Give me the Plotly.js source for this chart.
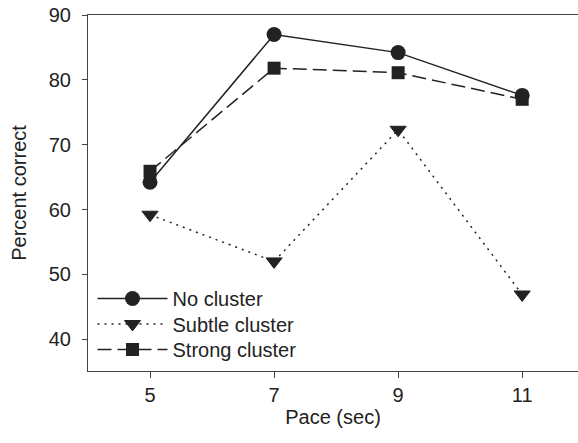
<!DOCTYPE html>
<html>
<head>
<meta charset="utf-8">
<script src="https://cdn.plot.ly/plotly-3.0.1.min.js"></script>
<style>
html,body{margin:0;padding:0;background:#fff;}
#chart{width:578px;height:443px;}
</style>
</head>
<body>
<div id="chart"></div>
<script>
var pace = [5, 7, 9, 11];
var noCluster = [64.2, 87.0, 84.2, 77.6];
var subtleCluster = [59.2, 52.0, 72.3, 46.9];
var strongCluster = [65.9, 81.8, 81.1, 77.0];
var seriesNames = ["No cluster", "Subtle cluster", "Strong cluster"];
var xTicks = [5, 7, 9, 11];
var yTicks = [40, 50, 60, 70, 80, 90];

var ink = "#222222";
var traces = [
  {x: pace, y: noCluster, name: seriesNames[0], mode: "lines+markers", legend: "legend",
   line: {color: ink, width: 1.5, dash: "solid"},
   marker: {symbol: "circle", size: 15, color: ink}},
  {x: pace, y: subtleCluster, name: seriesNames[1], mode: "lines+markers", legend: "legend2",
   line: {color: ink, width: 1.5, dash: "2px,5px"},
   marker: {symbol: "triangle-down", size: 14, color: ink, line: {color: ink, width: 1}}},
  {x: pace, y: strongCluster, name: seriesNames[2], mode: "lines+markers", legend: "legend3",
   line: {color: ink, width: 1.5, dash: "14px,6px"},
   marker: {symbol: "square", size: 13, color: ink}}
];

var font = {family: "Liberation Sans, Arial, Helvetica, sans-serif", size: 20, color: ink};
function leg(y) {
  return {x: 0.0092, y: y, xanchor: "left", yanchor: "middle",
          bgcolor: "rgba(0,0,0,0)", borderwidth: 0, itemwidth: 70, font: font};
}

var layout = {
  width: 578, height: 443,
  margin: {l: 88, r: 0, t: 15, b: 72},
  paper_bgcolor: "#fff", plot_bgcolor: "#fff",
  font: font,
  showlegend: true,
  legend: leg(0.2037),
  legend2: leg(0.132),
  legend3: leg(0.0604),
  xaxis: {
    range: [4, 11.9], tickvals: xTicks, ticktext: xTicks.map(String),
    showgrid: false, zeroline: false, showline: true, mirror: true,
    linecolor: "#444", linewidth: 1, ticks: "outside", ticklen: 6,
    tickcolor: "#444", tickwidth: 1, tickfont: font,
    title: {text: "Pace (sec)", font: font, standoff: 4}
  },
  yaxis: {
    range: [35.1, 90], tickvals: yTicks, ticktext: yTicks.map(String),
    showgrid: false, zeroline: false, showline: true,
    linecolor: "#444", linewidth: 1, ticks: "outside", ticklen: 5,
    tickcolor: "#444", tickwidth: 1, tickfont: font, ticklabelstandoff: 7,
    title: {text: "Percent correct", font: font, standoff: 16}
  }
};

Plotly.newPlot("chart", traces, layout, {displayModeBar: false, staticPlot: true});
</script>
</body>
</html>
